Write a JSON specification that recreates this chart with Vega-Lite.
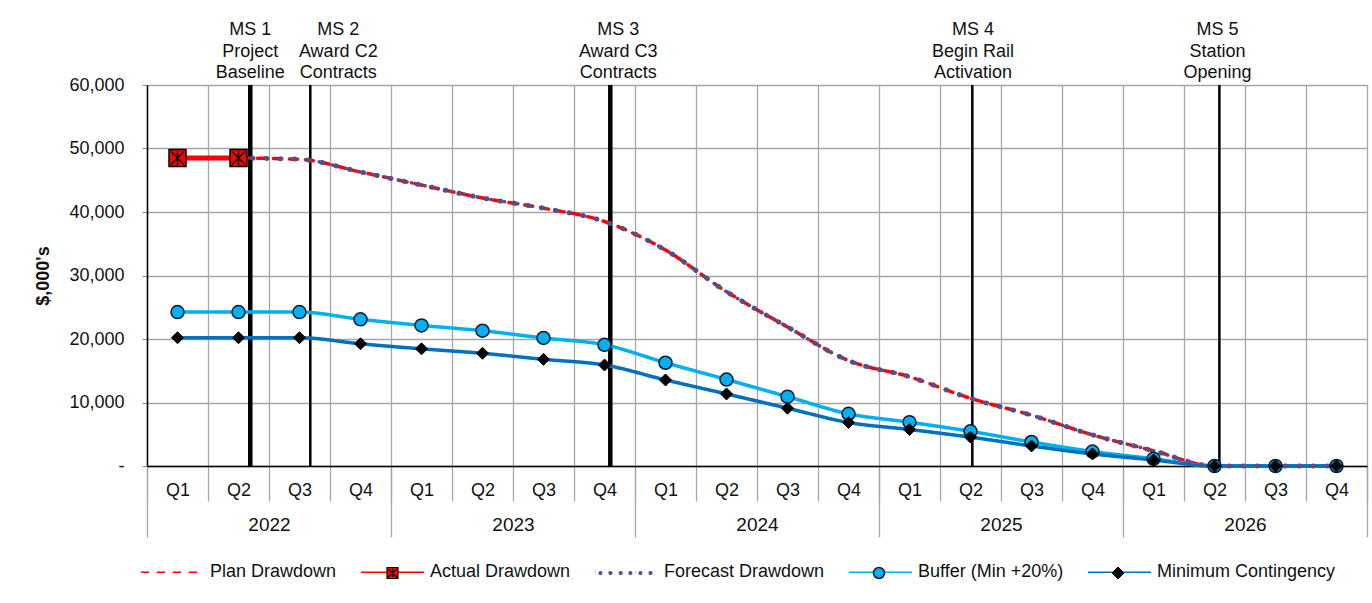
{
  "$schema": "https://vega.github.io/schema/vega-lite/v6.json",
  "width": 1220,
  "height": 381,
  "autosize": {"type": "none"},
  "padding": {"left": 147, "top": 85, "right": 5, "bottom": 137},
  "background": "white",
  "config": {
    "font": "Liberation Sans",
    "view": {"stroke": "#9a9a9a", "strokeWidth": 1},
    "axis": {"labelFont": "Liberation Sans", "labelColor": "#111", "titleColor": "#111", "labelFlush": false},
    "axisY": {"labelExpr": "datum.value == 0 ? '-' : format(datum.value, ',')",
      "grid": true, "gridColor": "#a6a6a6", "gridWidth": 1.3, "tickSize": 5, "tickColor": "#888", "domainColor": "#000", "domainWidth": 1.5,
      "labelFontSize": 18, "labelPadding": 18, "titleFontSize": 18, "titleFontWeight": "bold", "titlePadding": 16},
    "legend": {"labelFont": "Liberation Sans", "labelColor": "#111", "labelLimit": 0}
  },
  "datasets": {
    "q": [
      {"i": 0, "plan": 48500, "actual": 48500, "forecast": null, "buffer": 24240, "min": 20200},
      {"i": 1, "plan": 48500, "actual": 48500, "forecast": 48500, "buffer": 24240, "min": 20200},
      {"i": 2, "plan": 48300, "actual": null, "forecast": 48300, "buffer": 24240, "min": 20200},
      {"i": 3, "plan": 46300, "actual": null, "forecast": 46300, "buffer": 23100, "min": 19250},
      {"i": 4, "plan": 44250, "actual": null, "forecast": 44250, "buffer": 22140, "min": 18450},
      {"i": 5, "plan": 42200, "actual": null, "forecast": 42200, "buffer": 21300, "min": 17750},
      {"i": 6, "plan": 40600, "actual": null, "forecast": 40600, "buffer": 20160, "min": 16800},
      {"i": 7, "plan": 38500, "actual": null, "forecast": 38500, "buffer": 19080, "min": 15900},
      {"i": 8, "plan": 34000, "actual": null, "forecast": 34000, "buffer": 16260, "min": 13550},
      {"i": 9, "plan": 27450, "actual": null, "forecast": 27450, "buffer": 13620, "min": 11350},
      {"i": 10, "plan": 21900, "actual": null, "forecast": 21900, "buffer": 10920, "min": 9100},
      {"i": 11, "plan": 16600, "actual": null, "forecast": 16600, "buffer": 8220, "min": 6850},
      {"i": 12, "plan": 14050, "actual": null, "forecast": 14050, "buffer": 6900, "min": 5750},
      {"i": 13, "plan": 10650, "actual": null, "forecast": 10650, "buffer": 5460, "min": 4550},
      {"i": 14, "plan": 8000, "actual": null, "forecast": 8000, "buffer": 3780, "min": 3150},
      {"i": 15, "plan": 4900, "actual": null, "forecast": 4900, "buffer": 2280, "min": 1900},
      {"i": 16, "plan": 2400, "actual": null, "forecast": 2400, "buffer": 1140, "min": 950},
      {"i": 17, "plan": 0, "actual": null, "forecast": 0, "buffer": 0, "min": 0},
      {"i": 18, "plan": 0, "actual": null, "forecast": 0, "buffer": 0, "min": 0},
      {"i": 19, "plan": 0, "actual": null, "forecast": 0, "buffer": 0, "min": 0}
    ],
    "ms": [
      {"pos": 1.193, "lx": 1.193, "kind": "major", "label": "MS 1\nProject\nBaseline"},
      {"pos": 2.177, "lx": 2.636, "kind": "minor", "label": "MS 2\nAward C2\nContracts"},
      {"pos": 7.095, "lx": 7.226, "kind": "major", "label": "MS 3\nAward C3\nContracts"},
      {"pos": 13.03, "lx": 13.04, "kind": "minor", "label": "MS 4\nBegin Rail\nActivation"},
      {"pos": 17.08, "lx": 17.05, "kind": "minor", "label": "MS 5\nStation\nOpening"}
    ]
  },
  "layer": [
    {
      "data": {"name": "ms"},
      "mark": {"type": "rule", "color": "#000"},
      "encoding": {
        "x": {"field": "pos", "type": "quantitative", "scale": {"domain": [-0.5, 19.5], "nice": false, "zero": false},
          "axis": {"orient": "bottom", "values": [-0.5, 0.5, 1.5, 2.5, 3.5, 4.5, 5.5, 6.5, 7.5, 8.5, 9.5, 10.5, 11.5, 12.5, 13.5, 14.5, 15.5, 16.5, 17.5, 18.5, 19.5],
            "labels": false, "grid": true, "gridColor": "#a6a6a6", "gridWidth": 1.3, "ticks": true, "tickSize": 35, "tickColor": "#a6a6a6", "tickWidth": 1.3, "domain": false, "title": null}},
        "y": {"datum": 0, "type": "quantitative", "scale": {"domain": [0, 60000], "nice": false}, "axis": {"title": "$,000's", "values": [0, 10000, 20000, 30000, 40000, 50000, 60000]}},
        "y2": {"datum": 60000},
        "strokeWidth": {"field": "kind", "type": "ordinal", "scale": {"domain": ["major", "minor"], "range": [4.5, 2.5]}, "legend": null}
      }
    },
    {
      "data": {"name": "ms"},
      "mark": {"type": "text", "lineBreak": "\n", "fontSize": 18, "lineHeight": 21.5, "align": "center", "baseline": "alphabetic", "dy": -50, "color": "#111"},
      "encoding": {
        "x": {"field": "lx", "type": "quantitative", "scale": {"domain": [-0.5, 19.5], "nice": false, "zero": false},
          "axis": {"orient": "bottom", "values": [-0.5, 3.5, 7.5, 11.5, 15.5, 19.5], "labels": false, "grid": false, "ticks": true, "tickSize": 71, "tickColor": "#a6a6a6", "tickWidth": 1.3, "domain": false, "title": null}},
        "y": {"datum": 60000, "type": "quantitative", "scale": {"domain": [0, 60000], "nice": false}, "axis": {"title": "$,000's", "values": [0, 10000, 20000, 30000, 40000, 50000, 60000]}},
        "text": {"field": "label"}
      }
    },
    {
      "data": {"name": "q"},
      "transform": [{"fold": ["plan", "actual", "forecast", "buffer", "min"], "as": ["s", "v"]}],
      "mark": {"type": "line", "strokeWidth": 3.5, "strokeCap": "round", "interpolate": "monotone"},
      "encoding": {
        "x": {"field": "i", "type": "quantitative", "scale": {"domain": [-0.5, 19.5], "nice": false, "zero": false},
          "axis": {"orient": "bottom", "values": [0, 1, 2, 3, 4, 5, 6, 7, 8, 9, 10, 11, 12, 13, 14, 15, 16, 17, 18, 19],
            "labelExpr": "'Q' + (datum.value % 4 + 1)", "grid": false, "ticks": false, "domain": true, "domainColor": "#000", "domainWidth": 1.5,
            "labelFontSize": 18, "labelPadding": 15, "labelOverlap": false, "title": null}},
        "y": {"field": "v", "type": "quantitative", "scale": {"domain": [0, 60000], "nice": false}, "axis": {"title": "$,000's", "values": [0, 10000, 20000, 30000, 40000, 50000, 60000]}},
        "color": {"field": "s", "type": "nominal",
          "scale": {"domain": ["plan", "actual", "forecast", "buffer", "min"], "range": ["#ff0000", "#ff0000", "#5b4c87", "#00b0f0", "#0070c0"]},
          "legend": {"orient": "none", "legendX": -7, "legendY": 454.5, "direction": "horizontal", "title": null,
            "labelExpr": "datum.value == 'plan' ? 'Plan Drawdown' : datum.value == 'actual' ? 'Actual Drawdown' : datum.value == 'forecast' ? 'Forecast Drawdown' : datum.value == 'buffer' ? 'Buffer (Min +20%)' : 'Minimum Contingency'",
            "symbolSize": 3969, "labelFontSize": 18, "labelOffset": 5, "symbolOffset": 0, "columnPadding": 21, "zindex": 1, "padding": 0}},
        "strokeDash": {"field": "s", "type": "nominal",
          "scale": {"domain": ["plan", "actual", "forecast", "buffer", "min"], "range": [[8, 8], [1, 0], [0.5, 13], [1, 0], [1, 0]]},
          "legend": {"orient": "none", "legendX": -7, "legendY": 454.5, "direction": "horizontal", "title": null,
            "labelExpr": "datum.value == 'plan' ? 'Plan Drawdown' : datum.value == 'actual' ? 'Actual Drawdown' : datum.value == 'forecast' ? 'Forecast Drawdown' : datum.value == 'buffer' ? 'Buffer (Min +20%)' : 'Minimum Contingency'",
            "symbolSize": 3969, "labelFontSize": 18, "labelOffset": 5, "symbolOffset": 0, "columnPadding": 21, "zindex": 1, "padding": 0}}
      }
    },
    {
      "data": {"name": "q"},
      "transform": [{"filter": "datum.forecast != null"}],
      "mark": {"type": "line", "color": "#5b4c87", "strokeWidth": 5, "strokeCap": "round", "strokeDash": [0.5, 13.5], "interpolate": "monotone"},
      "encoding": {
        "x": {"field": "i", "type": "quantitative", "scale": {"domain": [-0.5, 19.5], "nice": false, "zero": false}, "axis": null},
        "y": {"field": "forecast", "type": "quantitative", "scale": {"domain": [0, 60000], "nice": false}, "axis": {"title": "$,000's", "values": [0, 10000, 20000, 30000, 40000, 50000, 60000]}}
      }
    },
    {
      "data": {"name": "q"},
      "transform": [{"filter": "datum.actual != null"}],
      "mark": {"type": "line", "color": "#ff0000", "strokeWidth": 5},
      "encoding": {
        "x": {"field": "i", "type": "quantitative", "scale": {"domain": [-0.5, 19.5], "nice": false, "zero": false}, "axis": null},
        "y": {"field": "actual", "type": "quantitative", "scale": {"domain": [0, 60000], "nice": false}, "axis": {"title": "$,000's", "values": [0, 10000, 20000, 30000, 40000, 50000, 60000]}}
      }
    },
    {
      "data": {"name": "q"},
      "transform": [{"filter": "datum.actual != null"}],
      "mark": {"type": "point", "shape": "M-0.5,-0.5L0.5,-0.5L0.5,0.5L-0.5,0.5ZM-0.38,-0.38L0.38,0.38M0.38,-0.38L-0.38,0.38M0,-0.42L0,0.42", "size": 1156, "filled": true, "fill": "#ff0000", "stroke": "#000", "strokeWidth": 1.5, "opacity": 1},
      "encoding": {
        "x": {"field": "i", "type": "quantitative", "scale": {"domain": [-0.5, 19.5], "nice": false, "zero": false}, "axis": null},
        "y": {"field": "actual", "type": "quantitative", "scale": {"domain": [0, 60000], "nice": false}, "axis": {"title": "$,000's", "values": [0, 10000, 20000, 30000, 40000, 50000, 60000]}}
      }
    },
    {
      "data": {"name": "q"},
      "mark": {"type": "point", "shape": "circle", "size": 169, "filled": true, "fill": "#00b0f0", "stroke": "#0a1a30", "strokeWidth": 1.5, "opacity": 1},
      "encoding": {
        "x": {"field": "i", "type": "quantitative", "scale": {"domain": [-0.5, 19.5], "nice": false, "zero": false},
          "axis": {"orient": "bottom", "values": [1.5, 5.5, 9.5, 13.5, 17.5], "labelExpr": "'' + (2022 + (datum.value - 1.5) / 4)",
            "ticks": false, "grid": false, "domain": false, "labelFontSize": 19, "labelPadding": 49, "labelOverlap": false, "title": null}},
        "y": {"field": "buffer", "type": "quantitative", "scale": {"domain": [0, 60000], "nice": false}, "axis": {"title": "$,000's", "values": [0, 10000, 20000, 30000, 40000, 50000, 60000]}}
      }
    },
    {
      "data": {"name": "q"},
      "mark": {"type": "point", "shape": "diamond", "size": 144, "filled": true, "fill": "#000", "stroke": "#000", "strokeWidth": 1, "opacity": 1},
      "encoding": {
        "x": {"field": "i", "type": "quantitative", "scale": {"domain": [-0.5, 19.5], "nice": false, "zero": false}, "axis": null},
        "y": {"field": "min", "type": "quantitative", "scale": {"domain": [0, 60000], "nice": false}, "axis": {"title": "$,000's", "values": [0, 10000, 20000, 30000, 40000, 50000, 60000]}}
      }
    },
    {
      "data": {"name": "q"},
      "transform": [{"filter": "datum.i < 0"}],
      "mark": {"type": "point", "filled": true, "stroke": "#000", "strokeWidth": 1.2, "opacity": 1},
      "encoding": {
        "x": {"field": "i", "type": "quantitative", "scale": {"domain": [-0.5, 19.5], "nice": false, "zero": false}, "axis": null},
        "y": {"field": "actual", "type": "quantitative", "scale": {"domain": [0, 60000], "nice": false}, "axis": {"title": "$,000's", "values": [0, 10000, 20000, 30000, 40000, 50000, 60000]}},
        "fill": {"field": "i", "type": "nominal", "scale": {"domain": ["actual"], "range": ["#ff0000"]},
          "legend": {"orient": "none", "legendX": 233.5, "legendY": 476, "title": null, "labelExpr": "''", "labelFontSize": 1, "labelOffset": 0,
            "symbolType": "M-0.5,-0.5L0.5,-0.5L0.5,0.5L-0.5,0.5ZM-0.38,-0.38L0.38,0.38M0.38,-0.38L-0.38,0.38M0,-0.42L0,0.42",
            "symbolSize": 484, "symbolStrokeColor": "#000", "symbolStrokeWidth": 1.2, "padding": 0, "zindex": 2}}
      }
    },
    {
      "data": {"name": "q"},
      "transform": [{"filter": "datum.i < 0"}],
      "mark": {"type": "point", "filled": true, "stroke": "transparent", "strokeWidth": 0, "opacity": 1},
      "encoding": {
        "x": {"field": "i", "type": "quantitative", "scale": {"domain": [-0.5, 19.5], "nice": false, "zero": false}, "axis": null},
        "y": {"field": "forecast", "type": "quantitative", "scale": {"domain": [0, 60000], "nice": false}, "axis": {"title": "$,000's", "values": [0, 10000, 20000, 30000, 40000, 50000, 60000]}},
        "fill": {"field": "i", "type": "nominal", "scale": {"domain": ["forecast"], "range": ["#5b4c87"]},
          "legend": {"orient": "none", "legendX": 447, "legendY": 456.5, "title": null, "labelExpr": "''", "labelFontSize": 1, "labelOffset": 0,
            "symbolType": "M-0.73,0A0.065,0.065,0,1,1,-0.86,0A0.065,0.065,0,1,1,-0.73,0ZM-0.41,0A0.065,0.065,0,1,1,-0.54,0A0.065,0.065,0,1,1,-0.41,0ZM-0.09,0A0.065,0.065,0,1,1,-0.22,0A0.065,0.065,0,1,1,-0.09,0ZM0.22,0A0.065,0.065,0,1,1,0.09,0A0.065,0.065,0,1,1,0.22,0ZM0.54,0A0.065,0.065,0,1,1,0.41,0A0.065,0.065,0,1,1,0.54,0ZM0.86,0A0.065,0.065,0,1,1,0.73,0A0.065,0.065,0,1,1,0.86,0Z",
            "symbolSize": 3969, "symbolStrokeColor": "transparent", "symbolStrokeWidth": 0, "padding": 0, "zindex": 2}}
      }
    },
    {
      "data": {"name": "q"},
      "transform": [{"filter": "datum.i < 0"}],
      "mark": {"type": "point", "filled": true, "stroke": "#0a1a30", "strokeWidth": 1.5, "opacity": 1},
      "encoding": {
        "x": {"field": "i", "type": "quantitative", "scale": {"domain": [-0.5, 19.5], "nice": false, "zero": false}, "axis": null},
        "y": {"field": "buffer", "type": "quantitative", "scale": {"domain": [0, 60000], "nice": false}, "axis": {"title": "$,000's", "values": [0, 10000, 20000, 30000, 40000, 50000, 60000]}},
        "fill": {"field": "i", "type": "nominal", "scale": {"domain": ["buffer"], "range": ["#00b0f0"]},
          "legend": {"orient": "none", "legendX": 725.5, "legendY": 481.5, "title": null, "labelExpr": "''", "labelFontSize": 1, "labelOffset": 0,
            "symbolType": "circle", "symbolSize": 121, "symbolStrokeColor": "#0a1a30", "symbolStrokeWidth": 1.5, "padding": 0, "zindex": 2}}
      }
    },
    {
      "data": {"name": "q"},
      "transform": [{"filter": "datum.i < 0"}],
      "mark": {"type": "point", "filled": true, "stroke": "#000", "strokeWidth": 1, "opacity": 1},
      "encoding": {
        "x": {"field": "i", "type": "quantitative", "scale": {"domain": [-0.5, 19.5], "nice": false, "zero": false}, "axis": null},
        "y": {"field": "min", "type": "quantitative", "scale": {"domain": [0, 60000], "nice": false}, "axis": {"title": "$,000's", "values": [0, 10000, 20000, 30000, 40000, 50000, 60000]}},
        "fill": {"field": "i", "type": "nominal", "scale": {"domain": ["min"], "range": ["#000000"]},
          "legend": {"orient": "none", "legendX": 964.5, "legendY": 481.5, "title": null, "labelExpr": "''", "labelFontSize": 1, "labelOffset": 0,
            "symbolType": "diamond", "symbolSize": 144, "symbolStrokeColor": "#000", "symbolStrokeWidth": 1, "padding": 0, "zindex": 2}}
      }
    }
  ],
  "resolve": {"axis": {"x": "independent"}, "scale": {"fill": "independent"}}
}
